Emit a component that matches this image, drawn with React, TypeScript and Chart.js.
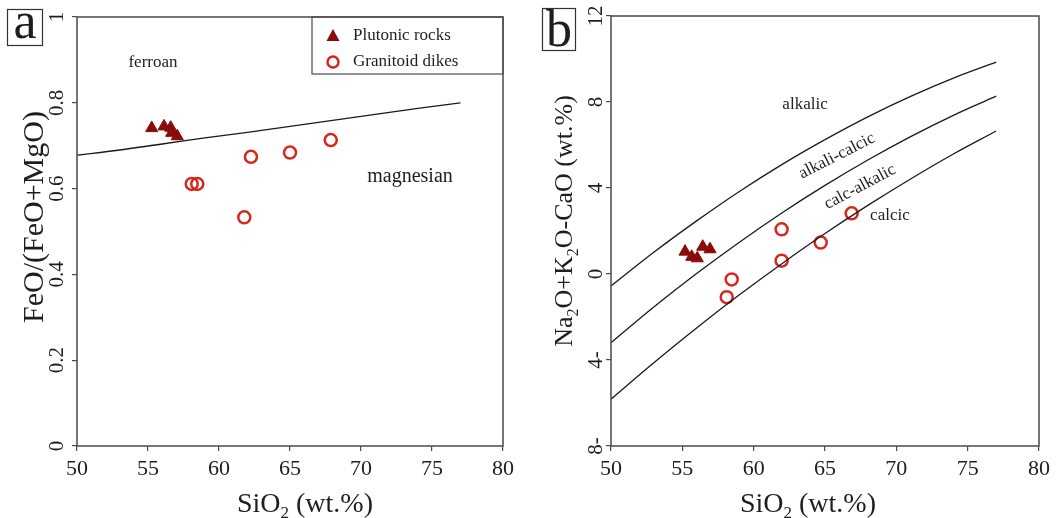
import React, { useEffect, useRef } from 'react';
import { Chart, registerables } from 'chart.js';
Chart.register(...registerables);

const SERIF = '"Liberation Serif", "DejaVu Serif", serif';

// ---------- data: panel a ----------
const xTicks = [50, 55, 60, 65, 70, 75, 80];
const feTicks = [0, 0.2, 0.4, 0.6, 0.8, 1];
const feTickLabels = ['0', '0.2', '0.4', '0.6', '0.8', '1'];
const frostSiO2 = [50, 53, 56, 59, 62, 65, 68, 71, 74, 77];
const frostFe = [0.678, 0.69, 0.704, 0.718, 0.731, 0.745, 0.759, 0.773, 0.787, 0.8];
const plutonicSiO2 = [55.26, 56.13, 56.6, 56.67, 57.06];
const plutonicFe = [0.741, 0.745, 0.742, 0.73, 0.722];
const dikeSiO2 = [58.08, 58.47, 62.25, 65.0, 67.87, 61.78];
const dikeFe = [0.611, 0.611, 0.674, 0.684, 0.713, 0.533];

// ---------- data: panel b ----------
const maliTicks = [-8, -4, 0, 4, 8, 12];
const maliTickLabels = ['8-', '4-', '0', '4', '8', '12'];
const maliSiO2 = [50, 53, 56, 59, 62, 65, 68, 71, 74, 77];
const alkalicBoundary = [-0.56, 1.01, 2.47, 3.84, 5.1, 6.25, 7.31, 8.26, 9.11, 9.85];
const alkaliCalcicBoundary = [-3.2, -1.54, 0.02, 1.48, 2.85, 4.12, 5.3, 6.39, 7.38, 8.27];
const calcAlkalicBoundary = [-5.82, -4.13, -2.51, -0.97, 0.49, 1.88, 3.19, 4.42, 5.58, 6.65];
const plutonicMaliSiO2 = [55.19, 55.66, 56.05, 56.43, 56.94];
const plutonicMali = [1.04, 0.8, 0.73, 1.27, 1.15];
const dikeMaliSiO2 = [61.96, 64.7, 66.87, 61.96, 58.46, 58.11];
const dikeMali = [2.08, 1.46, 2.82, 0.62, -0.25, -1.08];

const zip = (xs: number[], ys: number[]) => xs.map((x, i) => ({ x, y: ys[i] }));

const TRI = '#8b0a0a';
const CIRC = '#d6261f';
const FRAME = '#4a4a4a';
const TXT = '#1e1e1e';

type Part = [string, boolean];

function drawRich(ctx: CanvasRenderingContext2D, parts: Part[], cx: number, base: number, size: number) {
  const subSize = Math.round(size * 0.62);
  let total = 0;
  const ws = parts.map(([t, s]) => {
    ctx.font = `${s ? subSize : size}px ${SERIF}`;
    const w = ctx.measureText(t).width;
    total += w;
    return w;
  });
  let x = cx - total / 2;
  ctx.textAlign = 'left';
  ctx.textBaseline = 'alphabetic';
  parts.forEach(([t, s], i) => {
    ctx.font = `${s ? subSize : size}px ${SERIF}`;
    ctx.fillText(t, x, base + (s ? size * 0.22 : 0));
    x += ws[i];
  });
}

type Label = { t: string; x: number; y: number; rot: number; size: number };

type PanelCfg = {
  letter: string;
  box: [number, number, number, number];
  letterBase: number;
  yMin: number;
  yMax: number;
  yTicks: number[];
  yTickLabels: string[];
  tickBaseX: number;
  axisWidth: number;
  rightPad: number;
  topPad: number;
  lines: { x: number[]; y: number[] }[];
  plut: { x: number[]; y: number[] };
  dikes: { x: number[]; y: number[] };
  yTitle: Part[];
  yTitleSize: number;
  yTitleBaseX: number;
  yTitleCY: number;
  xTitleCX: number;
  labels: Label[];
  legend: boolean;
};

const panelA: PanelCfg = {
  letter: 'a',
  box: [7, 9, 35, 36],
  letterBase: 38,
  yMin: 0,
  yMax: 1,
  yTicks: feTicks,
  yTickLabels: feTickLabels,
  tickBaseX: 63,
  axisWidth: 77,
  rightPad: 25,
  topPad: 17,
  lines: [{ x: frostSiO2, y: frostFe }],
  plut: { x: plutonicSiO2, y: plutonicFe },
  dikes: { x: dikeSiO2, y: dikeFe },
  yTitle: [['FeO/(FeO+MgO)', false]],
  yTitleSize: 30,
  yTitleBaseX: 43,
  yTitleCY: 217,
  xTitleCX: 305,
  labels: [
    { t: 'ferroan', x: 55.35, y: 0.895, rot: 0, size: 17 },
    { t: 'magnesian', x: 73.45, y: 0.628, rot: 0, size: 20 },
  ],
  legend: true,
};

const panelB: PanelCfg = {
  letter: 'b',
  box: [14, 8, 33, 42],
  letterBase: 46,
  yMin: -8,
  yMax: 12,
  yTicks: maliTicks,
  yTickLabels: maliTickLabels,
  tickBaseX: 74,
  axisWidth: 83,
  rightPad: 17,
  topPad: 16,
  lines: [
    { x: maliSiO2, y: alkalicBoundary },
    { x: maliSiO2, y: alkaliCalcicBoundary },
    { x: maliSiO2, y: calcAlkalicBoundary },
  ],
  plut: { x: plutonicMaliSiO2, y: plutonicMali },
  dikes: { x: dikeMaliSiO2, y: dikeMali },
  yTitle: [
    ['Na', false], ['2', true], ['O+K', false], ['2', true], ['O-CaO (wt.%)', false],
  ],
  yTitleSize: 26,
  yTitleBaseX: 44,
  yTitleCY: 221,
  xTitleCX: 280,
  labels: [
    { t: 'alkalic', x: 63.6, y: 7.86, rot: 0, size: 17 },
    { t: 'alkali-calcic', x: 65.84, y: 5.49, rot: -27, size: 17 },
    { t: 'calc-alkalic', x: 67.45, y: 4.05, rot: -28, size: 17 },
    { t: 'calcic', x: 69.55, y: 2.74, rot: 0, size: 17 },
  ],
  legend: false,
};

function makeOverlay(p: PanelCfg) {
  return {
    id: 'overlay_' + p.letter,
    afterDraw(chart: any) {
      const { ctx, chartArea: ca, scales } = chart;
      const xs = scales.x;
      const ys = scales.y;
      ctx.save();
      ctx.fillStyle = TXT;

      // in-plot labels
      p.labels.forEach((l) => {
        ctx.save();
        ctx.translate(xs.getPixelForValue(l.x), ys.getPixelForValue(l.y));
        ctx.rotate((l.rot * Math.PI) / 180);
        ctx.font = `${l.size}px ${SERIF}`;
        ctx.textAlign = 'center';
        ctx.textBaseline = 'middle';
        ctx.fillText(l.t, 0, 0);
        ctx.restore();
      });

      // legend
      if (p.legend) {
        const lx = 312, ly = ca.top, lw = ca.right - 312, lh = 57;
        ctx.fillStyle = '#fff';
        ctx.fillRect(lx, ly, lw, lh);
        ctx.strokeStyle = FRAME;
        ctx.lineWidth = 1.2;
        ctx.strokeRect(lx, ly, lw, lh);
        const tx = 333, ty = ly + 19;
        ctx.fillStyle = TRI;
        ctx.beginPath();
        ctx.moveTo(tx, ty - 7);
        ctx.lineTo(tx + 6.5, ty + 5);
        ctx.lineTo(tx - 6.5, ty + 5);
        ctx.closePath();
        ctx.fill();
        ctx.strokeStyle = CIRC;
        ctx.lineWidth = 2.5;
        ctx.beginPath();
        ctx.arc(333, ly + 45, 5.5, 0, Math.PI * 2);
        ctx.stroke();
        ctx.fillStyle = TXT;
        ctx.font = `17px ${SERIF}`;
        ctx.textAlign = 'left';
        ctx.textBaseline = 'middle';
        ctx.fillText('Plutonic rocks', 353, ly + 19);
        ctx.fillText('Granitoid dikes', 353, ly + 45);
      }

      // frame
      ctx.strokeStyle = FRAME;
      ctx.lineWidth = 1.5;
      ctx.strokeRect(ca.left, ca.top, ca.right - ca.left, ca.bottom - ca.top);

      // rotated y tick labels
      ctx.fillStyle = TXT;
      ctx.font = `21px ${SERIF}`;
      p.yTicks.forEach((v, i) => {
        ctx.save();
        ctx.translate(p.tickBaseX, ys.getPixelForValue(v));
        ctx.rotate(-Math.PI / 2);
        ctx.textAlign = 'center';
        ctx.textBaseline = 'alphabetic';
        ctx.fillText(p.yTickLabels[i], 0, 0);
        ctx.restore();
      });

      // y title
      ctx.save();
      ctx.translate(p.yTitleBaseX, p.yTitleCY);
      ctx.rotate(-Math.PI / 2);
      drawRich(ctx, p.yTitle, 0, 0, p.yTitleSize);
      ctx.restore();

      // x title
      drawRich(ctx, [['SiO', false], ['2', true], [' (wt.%)', false]], p.xTitleCX, 512, 28);

      // panel letter box
      const [bx, by, bw, bh] = p.box;
      ctx.strokeStyle = '#333';
      ctx.lineWidth = 1.2;
      ctx.strokeRect(bx + 0.5, by + 0.5, bw, bh);
      ctx.font = `52px ${SERIF}`;
      ctx.textAlign = 'center';
      ctx.textBaseline = 'alphabetic';
      ctx.fillText(p.letter, bx + bw / 2 + 0.5, p.letterBase);

      ctx.restore();
    },
  };
}

function Panel({ p, left }: { p: PanelCfg; left: number }) {
  const ref = useRef<HTMLCanvasElement>(null);
  useEffect(() => {
    if (!ref.current) return;
    const datasets: any[] = p.lines.map((l) => ({
      data: zip(l.x, l.y),
      showLine: true,
      pointRadius: 0,
      borderColor: '#1a1a1a',
      borderWidth: 1.3,
      tension: 0.4,
      fill: false,
    }));
    datasets.push({
      data: zip(p.plut.x, p.plut.y),
      pointStyle: 'triangle',
      pointRadius: 7,
      backgroundColor: TRI,
      borderColor: TRI,
      borderWidth: 1,
      showLine: false,
    });
    datasets.push({
      data: zip(p.dikes.x, p.dikes.y),
      pointStyle: 'circle',
      pointRadius: 6,
      backgroundColor: 'rgba(255,255,255,0)',
      borderColor: CIRC,
      borderWidth: 2.5,
      showLine: false,
    });
    const chart = new Chart(ref.current, {
      type: 'scatter',
      data: { datasets },
      options: {
        animation: false,
        responsive: false,
        events: [],
        layout: { padding: { left: 0, right: p.rightPad, top: p.topPad, bottom: 0 } },
        plugins: { legend: { display: false }, tooltip: { enabled: false } },
        scales: {
          x: {
            type: 'linear',
            min: 50,
            max: 80,
            afterBuildTicks: (s: any) => {
              s.ticks = xTicks.map((v) => ({ value: v }));
            },
            afterFit: (s: any) => {
              s.height = 72;
              s.paddingLeft = 0;
              s.paddingRight = 0;
            },
            ticks: {
              color: TXT,
              font: { family: SERIF, size: 22 },
              padding: 5,
              maxRotation: 0,
              minRotation: 0,
              callback: (v: any) => String(v),
            },
            grid: { drawOnChartArea: false, drawTicks: true, tickLength: 5, color: FRAME, lineWidth: 1.2 },
            border: { display: false },
          },
          y: {
            type: 'linear',
            min: p.yMin,
            max: p.yMax,
            afterBuildTicks: (s: any) => {
              s.ticks = p.yTicks.map((v) => ({ value: v }));
            },
            afterFit: (s: any) => {
              s.width = p.axisWidth;
              s.paddingTop = 0;
              s.paddingBottom = 0;
            },
            ticks: { display: false },
            grid: { drawOnChartArea: false, drawTicks: true, tickLength: 5, color: FRAME, lineWidth: 1.2 },
            border: { display: false },
          },
        },
      },
      plugins: [makeOverlay(p)],
    } as any);
    return () => chart.destroy();
  }, [p]);
  return (
    <canvas
      ref={ref}
      width={528}
      height={518}
      style={{ position: 'absolute', left, top: 0, width: 528, height: 518 }}
    />
  );
}

export default function App() {
  return (
    <div style={{ position: 'fixed', left: 0, top: 0, width: 1056, height: 518, background: '#fff', overflow: 'hidden' }}>
      <Panel p={panelA} left={0} />
      <Panel p={panelB} left={528} />
    </div>
  );
}
